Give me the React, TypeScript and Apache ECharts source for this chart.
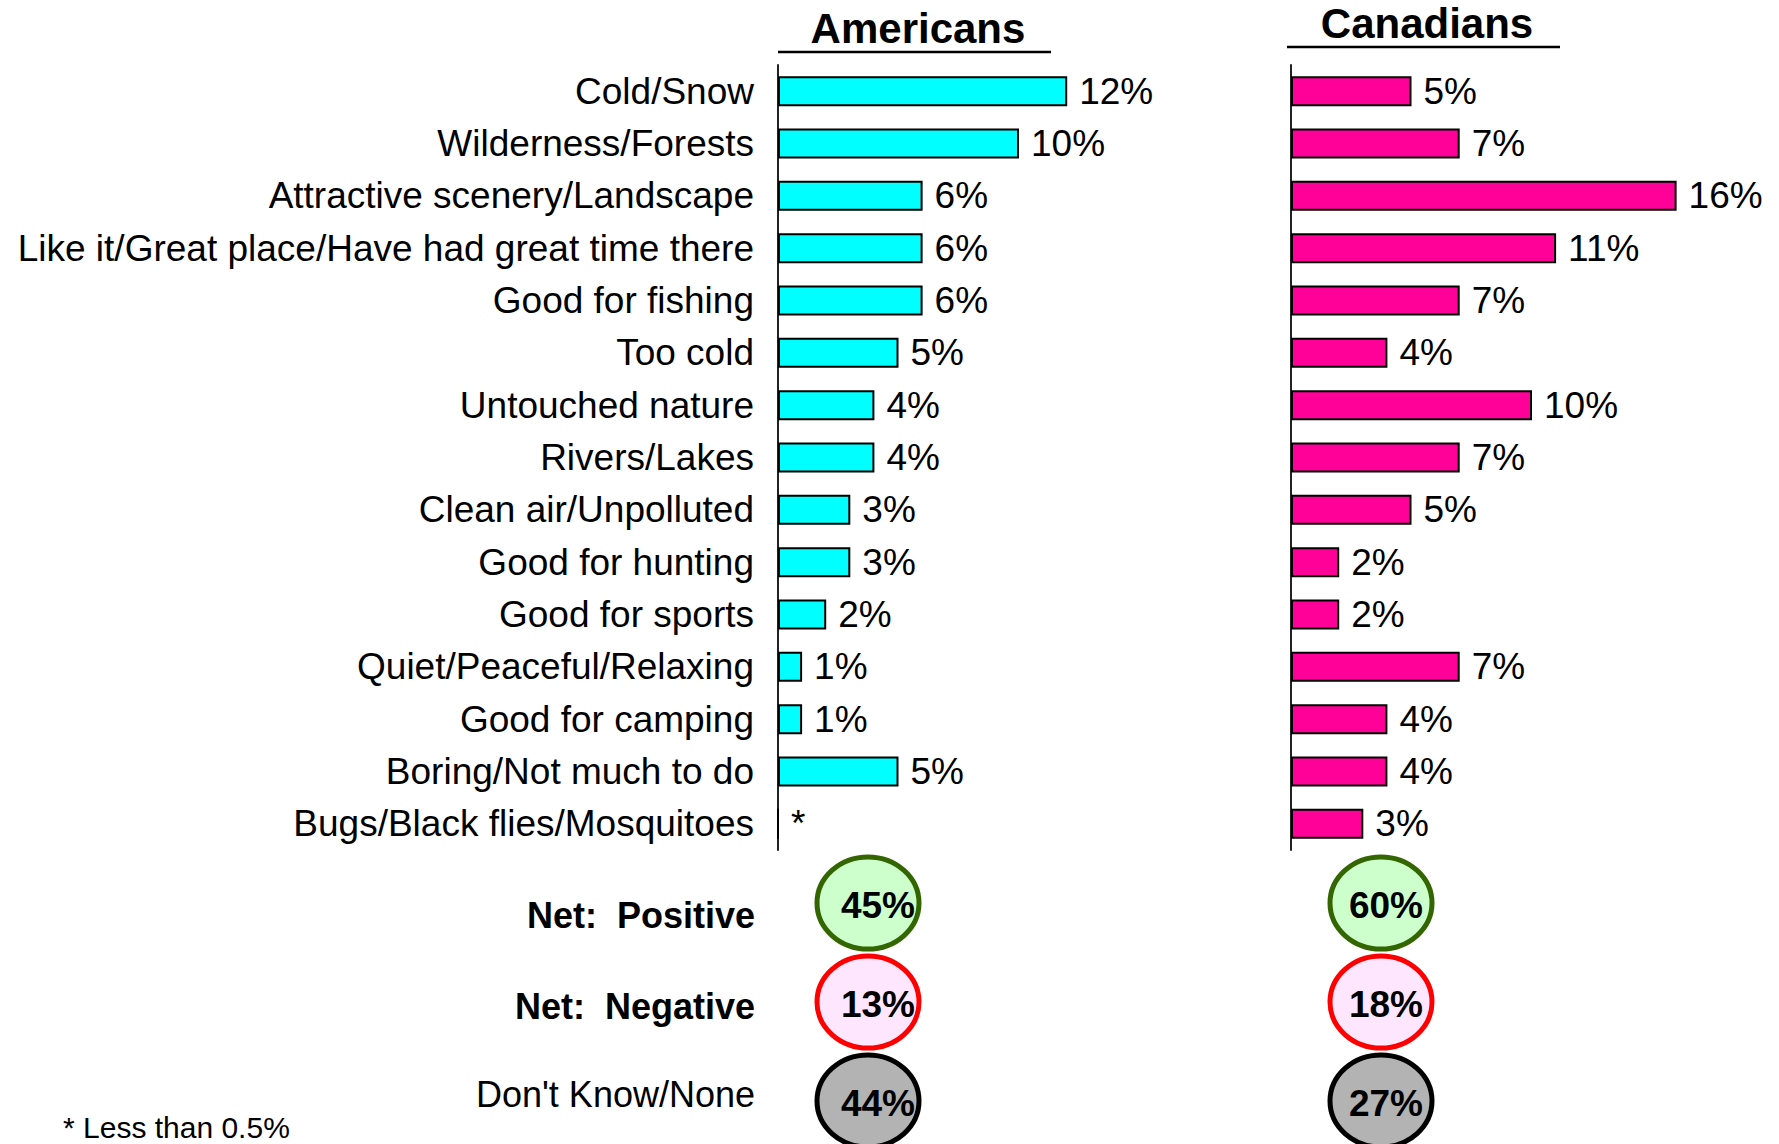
import React, { useEffect, useRef } from "react";
import * as echarts from "echarts";

const categories = [
  "Cold/Snow",
  "Wilderness/Forests",
  "Attractive scenery/Landscape",
  "Like it/Great place/Have had great time there",
  "Good for fishing",
  "Too cold",
  "Untouched nature",
  "Rivers/Lakes",
  "Clean air/Unpolluted",
  "Good for hunting",
  "Good for sports",
  "Quiet/Peaceful/Relaxing",
  "Good for camping",
  "Boring/Not much to do",
  "Bugs/Black flies/Mosquitoes",
];

// 0 means "less than 0.5%" (shown as *)
const americans = [12, 10, 6, 6, 6, 5, 4, 4, 3, 3, 2, 1, 1, 5, 0];
const canadians = [5, 7, 16, 11, 7, 4, 10, 7, 5, 2, 2, 7, 4, 4, 3];

const groupTitles = ["Americans", "Canadians"];
const netLabels = ["Net:  Positive", "Net:  Negative", "Don't Know/None"];
const netPositive = [45, 60];
const netNegative = [13, 18];
const dontKnow = [44, 27];
const footnote = "* Less than 0.5%";

const FONT = "'Liberation Sans', Arial, Helvetica, sans-serif";

export default function App() {
  const ref = useRef<HTMLDivElement>(null);

  useEffect(() => {
    if (!ref.current) return;
    const chart = echarts.init(ref.current, null, { renderer: "svg" });

    const gridTop = 65;
    const gridHeight = 785;
    const scaleMax = 20;
    const gridWidth = 482;
    const lefts = [778, 1291];

    const valueLabel = (p: any) => (p.value < 0.5 ? "*" : p.value + "%");

    const barSeries = (data: number[], idx: number, color: string) => ({
      type: "bar",
      xAxisIndex: idx,
      yAxisIndex: idx,
      data,
      barWidth: 30,
      itemStyle: { color, borderColor: "#000", borderWidth: 2 },
      label: {
        show: true,
        position: "right",
        distance: 12,
        formatter: valueLabel,
        color: "#000",
        fontSize: 37,
        fontFamily: FONT,
      },
      silent: true,
    });

    const headerY = [28, 23];
    const headerX = [918, 1427];
    const underline = [
      { x1: 778, x2: 1051, y: 52 },
      { x1: 1287, x2: 1560, y: 47 },
    ];
    const circleX = [868, 1381];
    const textOffset = [10, 5];
    const rowY = [903, 1002, 1101];
    const labelY = [915, 1006, 1094];
    const circleStyles = [
      { fill: "#CCFFCC", stroke: "#336600" },
      { fill: "#FFE6FF", stroke: "#FF0000" },
      { fill: "#B3B3B3", stroke: "#000000" },
    ];
    const circleValues = [netPositive, netNegative, dontKnow];

    const graphics: any[] = [];
    groupTitles.forEach((t, i) => {
      graphics.push({
        type: "text",
        style: {
          text: t,
          x: headerX[i],
          y: headerY[i],
          fill: "#000",
          fontSize: 42,
          fontWeight: "bold",
          fontFamily: FONT,
          align: "center",
          verticalAlign: "middle",
        },
      });
      graphics.push({
        type: "line",
        shape: { x1: underline[i].x1, y1: underline[i].y, x2: underline[i].x2, y2: underline[i].y },
        style: { stroke: "#000", lineWidth: 2.5 },
      });
    });
    netLabels.forEach((t, r) => {
      graphics.push({
        type: "text",
        style: {
          text: t,
          x: 755,
          y: labelY[r],
          fill: "#000",
          fontSize: 36,
          fontWeight: r < 2 ? "bold" : "normal",
          fontFamily: FONT,
          align: "right",
          verticalAlign: "middle",
        },
      });
      [0, 1].forEach((g) => {
        graphics.push({
          type: "ellipse",
          shape: { cx: circleX[g], cy: rowY[r], rx: 51, ry: 46 },
          style: { fill: circleStyles[r].fill, stroke: circleStyles[r].stroke, lineWidth: 5 },
        });
        graphics.push({
          type: "text",
          style: {
            text: circleValues[r][g] + "%",
            x: circleX[g] + textOffset[g],
            y: rowY[r] + 2,
            fill: "#000",
            fontSize: 37,
            fontWeight: "bold",
            fontFamily: FONT,
            align: "center",
            verticalAlign: "middle",
          },
        });
      });
    });
    graphics.push({
      type: "text",
      style: {
        text: footnote,
        x: 63,
        y: 1127,
        fill: "#000",
        fontSize: 30,
        fontFamily: FONT,
        align: "left",
        verticalAlign: "middle",
      },
    });

    const option: any = {
      animation: false,
      backgroundColor: "#fff",
      grid: lefts.map((l) => ({
        left: l,
        top: gridTop,
        width: gridWidth,
        height: gridHeight,
        containLabel: false,
      })),
      xAxis: lefts.map((_, i) => ({
        type: "value",
        gridIndex: i,
        min: 0,
        max: scaleMax,
        show: false,
      })),
      yAxis: lefts.map((_, i) => ({
        type: "category",
        gridIndex: i,
        data: categories,
        inverse: true,
        axisLine: { show: true, lineStyle: { color: "#222", width: 2 } },
        axisTick: { show: false },
        splitLine: { show: false },
        axisLabel: {
          show: i === 0,
          color: "#000",
          fontSize: 37,
          fontFamily: FONT,
          margin: 24,
          interval: 0,
        },
      })),
      series: [barSeries(americans, 0, "#00FFFF"), barSeries(canadians, 1, "#FF0099")],
      graphic: graphics,
    };

    chart.setOption(option);
    return () => chart.dispose();
  }, []);

  return (
    <div
      ref={ref}
      style={{ position: "absolute", left: 0, top: 0, width: 1779, height: 1144 }}
    />
  );
}
